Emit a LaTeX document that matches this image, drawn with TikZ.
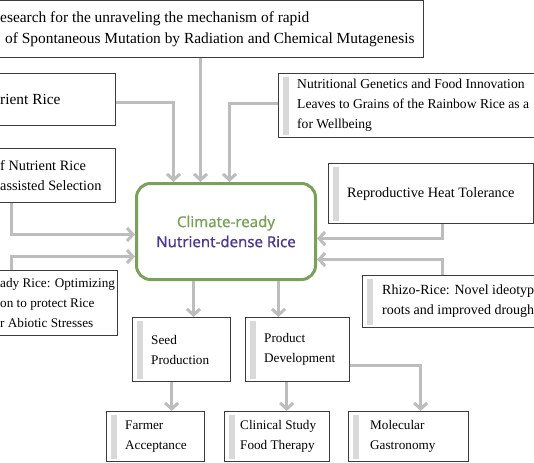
\documentclass[tikz,border=0pt]{standalone}
\usepackage{fontspec}
\setmainfont{Liberation Serif}
\newfontfamily\titlefont{Noto Sans}[FakeBold=0.8]
\usetikzlibrary{arrows.meta,positioning}
\definecolor{boxline}{HTML}{3C3C3C}
\definecolor{arrowgray}{HTML}{BDBDBD}
\definecolor{bargray}{HTML}{D9D9D9}
\definecolor{ricegreen}{HTML}{7BA05B}
\definecolor{ricepurple}{HTML}{4B378C}

\begin{document}
\begin{tikzpicture}[
  x=1pt, y=-1pt,
  font=\fontsize{14.3}{20}\selectfont,
  box/.style={draw=boxline, line width=1.3pt, fill=white, anchor=north west, inner sep=0pt},
  barbox/.style={box, path picture={\fill[bargray] ([xshift=4.5pt,yshift=-3pt]path picture bounding box.north west) rectangle ([xshift=10.5pt,yshift=3pt]path picture bounding box.south west);}},
  txt/.style={anchor=west, align=left, inner sep=0pt},
  bigtxt/.style={txt, font=\fontsize{15.4}{21}\selectfont},
  smalltxt/.style={txt, font=\fontsize{13.2}{20}\selectfont},
  arrow/.style={-{Straight Barb[length=6pt,width=13pt]}, draw=arrowgray, line width=3pt}
]
\useasboundingbox (0,0) rectangle (534,462);
\clip (0,0) rectangle (534,462);

% centre node
\node[draw=ricegreen, line width=3pt, rounded corners=14pt, minimum width=179pt, minimum height=96pt,
  anchor=north west, align=center, font=\titlefont\fontsize{15}{20}\selectfont] (rice) at (135,182)
  {\textcolor{ricegreen}{Climate-ready}\\\textcolor{ricepurple}{Nutrient-dense Rice}};

% inputs, left and top
\node[box, minimum width=463pt, minimum height=57pt] (mutation) at (-40,0) {};
\node[bigtxt] (mutation-t) at ([xshift=40pt]mutation.west)
  {esearch for the unraveling the mechanism of rapid\\\hspace*{5pt}of Spontaneous Mutation by Radiation and Chemical Mutagenesis};

\node[box, minimum width=155pt, minimum height=52pt] (nutrient) at (-40,73) {};
\node[bigtxt] (nutrient-t) at ([xshift=40pt]nutrient.west) {rient Rice};

\node[box, minimum width=155pt, minimum height=54pt] (marker) at (-40,148) {};
\node[txt] (marker-t) at ([xshift=40pt]marker.west) {f Nutrient Rice\\assisted Selection};

\node[box, minimum width=157pt, minimum height=65pt] (ready) at (-40,270) {};
\node[smalltxt] (ready-t) at ([xshift=40pt]ready.west) {ady Rice: Optimizing\\on to protect Rice\\r Abiotic Stresses};

% inputs, right
\node[barbox, minimum width=300pt, minimum height=64pt] (rainbow) at (278,73) {};
\node[txt, font=\fontsize{13.6}{20}\selectfont] (rainbow-t) at ([xshift=19pt]rainbow.west)
  {Nutritional Genetics and Food Innovation\\Leaves to Grains of the Rainbow Rice as a\\for Wellbeing};

\node[barbox, minimum width=205pt, minimum height=60pt] (heat) at (328,163) {};
\node[txt] (heat-t) at ([xshift=19pt]heat.west) {Reproductive Heat Tolerance};

\node[barbox, minimum width=250pt, minimum height=52pt] (rhizo) at (362,275) {};
\node[txt, font=\fontsize{14}{20}\selectfont] (rhizo-t) at ([xshift=20pt]rhizo.west) {Rhizo-Rice: Novel ideotype\\roots and improved drough};

% outputs
\node[barbox, minimum width=98pt, minimum height=64pt] (seed) at (132,317) {};
\node[smalltxt] (seed-t) at ([xshift=19pt]seed.west) {Seed\\Production};

\node[barbox, minimum width=104pt, minimum height=64pt] (product) at (245,317) {};
\node[smalltxt] (product-t) at ([xshift=19pt]product.west) {Product\\Development};

\node[barbox, minimum width=98pt, minimum height=50pt] (farmer) at (106,411) {};
\node[smalltxt] (farmer-t) at ([xshift=19pt]farmer.west) {Farmer\\Acceptance};

\node[barbox, minimum width=105pt, minimum height=50pt] (clinical) at (224,411) {};
\node[smalltxt] (clinical-t) at ([xshift=16pt]clinical.west) {Clinical Study\\Food Therapy};

\node[barbox, minimum width=120pt, minimum height=50pt] (gastro) at (348,411) {};
\node[smalltxt] (gastro-t) at ([xshift=22pt]gastro.west) {Molecular\\Gastronomy};

% arrow ends on the centre node
\coordinate (in-a) at ([xshift=-52.5pt]rice.north);
\coordinate (in-b) at ([xshift=-25.5pt]rice.north);
\coordinate (in-c) at ([xshift=3.5pt]rice.north);
\coordinate (in-d) at ([yshift=-3pt]rice.west);
\coordinate (in-e) at ([yshift=-25pt]rice.west);
\coordinate (in-f) at ([yshift=-7pt]rice.east);
\coordinate (in-g) at ([yshift=-28pt]rice.east);
\coordinate (out-a) at ([xshift=-32.5pt]rice.south);
\coordinate (out-b) at ([xshift=52.5pt]rice.south);
\coordinate (seed-out) at ([xshift=-10pt]seed.south);
\coordinate (product-out) at ([xshift=-11pt]product.south);
\coordinate (gastro-in) at ([xshift=12pt]gastro.north);

\draw[arrow] ([yshift=-3pt]nutrient.east) -| (in-a);
\draw[arrow] (in-b |- mutation.south) -- (in-b);
\draw[arrow] ([yshift=2pt]rainbow.west) -| (in-c);
\draw[arrow] ([xshift=51pt]marker.south west) |- (in-d);
\draw[arrow] ([xshift=51pt]ready.north west) |- (in-e);
\draw[arrow] ([xshift=114pt]heat.south west) |- (in-f);
\draw[arrow] ([xshift=80pt]rhizo.north west) |- (in-g);
\draw[arrow] (out-a) -- (out-a |- seed.north);
\draw[arrow] (out-b) -- (out-b |- product.north);
\draw[arrow] (seed-out) -- (seed-out |- farmer.north);
\draw[arrow] (product-out) -- (product-out |- clinical.north);
\draw[arrow] ([yshift=-16pt]product.east) -| (gastro-in);

\end{tikzpicture}
\end{document}
